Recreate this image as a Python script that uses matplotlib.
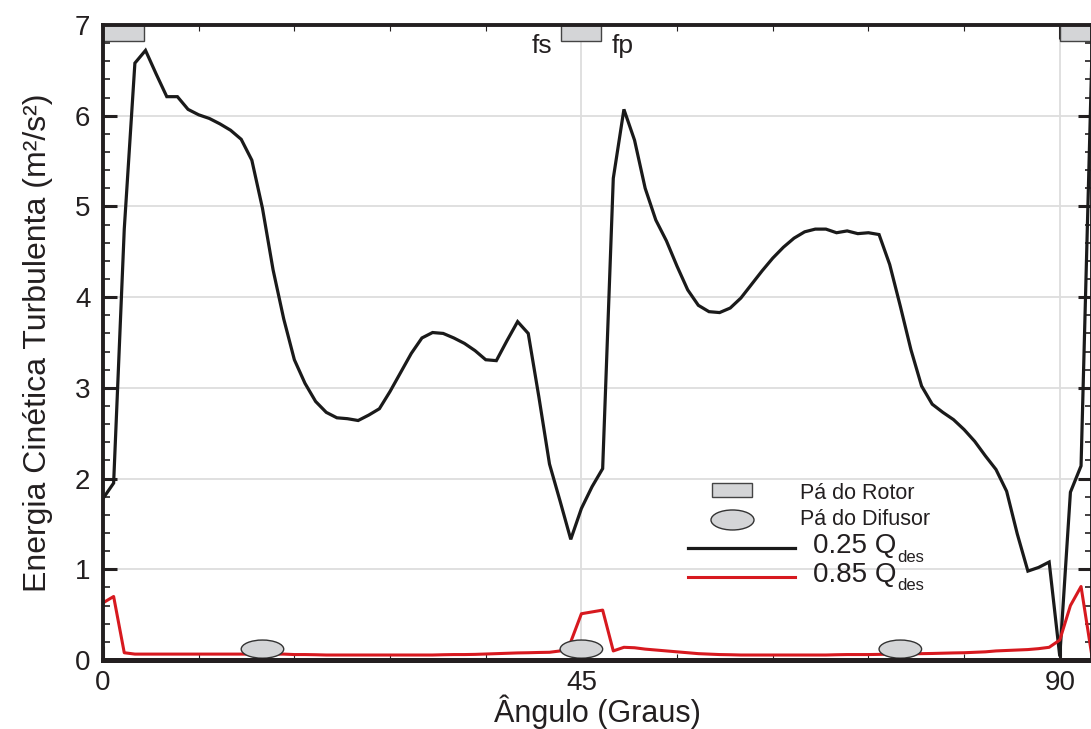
import matplotlib
matplotlib.use("Agg")
import matplotlib.pyplot as plt
from matplotlib.patches import Rectangle, Ellipse
from matplotlib.lines import Line2D
from matplotlib.ticker import MultipleLocator

plt.rcParams['font.family'] = ['Liberation Sans', 'DejaVu Sans']

# ---------------------------
# Data
# ---------------------------
angulo = list(range(0, 94))

k_025 = [1.78, 1.95, 4.75, 6.58, 6.72, 6.46, 6.21, 6.21, 6.07, 6.01,
         5.97, 5.91, 5.84, 5.74, 5.51, 4.98, 4.30, 3.76, 3.31, 3.05,
         2.85, 2.73, 2.67, 2.66, 2.64, 2.70, 2.77, 2.96, 3.17, 3.38,
         3.55, 3.61, 3.60, 3.55, 3.49, 3.41, 3.31, 3.30, 3.52, 3.73,
         3.60, 2.90, 2.16, 1.75, 1.33, 1.67, 1.91, 2.11, 5.31, 6.07,
         5.73, 5.20, 4.85, 4.62, 4.34, 4.08, 3.91, 3.84, 3.83, 3.88,
         3.99, 4.14, 4.29, 4.43, 4.55, 4.65, 4.72, 4.75, 4.75, 4.71,
         4.73, 4.70, 4.71, 4.69, 4.36, 3.90, 3.42, 3.02, 2.82, 2.73,
         2.65, 2.54, 2.41, 2.25, 2.10, 1.86, 1.39, 0.98, 1.02, 1.08,
         0.04, 1.85, 2.14, 6.58]

k_085 = [0.63, 0.70, 0.08, 0.065, 0.065, 0.065, 0.065, 0.065, 0.065, 0.065,
         0.065, 0.065, 0.065, 0.065, 0.065, 0.065, 0.065, 0.065, 0.06, 0.06,
         0.058, 0.055, 0.055, 0.055, 0.055, 0.055, 0.055, 0.055, 0.055, 0.055,
         0.055, 0.055, 0.058, 0.06, 0.06, 0.062, 0.066, 0.07, 0.074, 0.078,
         0.08, 0.083, 0.085, 0.10, 0.20, 0.51, 0.53, 0.55, 0.10, 0.14,
         0.135, 0.12, 0.11, 0.10, 0.09, 0.08, 0.07, 0.065, 0.06, 0.058,
         0.055, 0.055, 0.055, 0.055, 0.055, 0.055, 0.055, 0.055, 0.055, 0.058,
         0.06, 0.06, 0.06, 0.062, 0.065, 0.065, 0.068, 0.07, 0.072, 0.075,
         0.078, 0.08, 0.085, 0.09, 0.10, 0.105, 0.11, 0.115, 0.125, 0.14,
         0.22, 0.60, 0.81, 0.06]

# rotor blade marks (top) and diffuser blade marks (bottom), in degrees
rotor_inicio = [0.0, 43.05, 90.0]
rotor_fim = [3.86, 46.8, 93.8]
difusor_centro = [15, 45, 75]

x_ticks = [0, 45, 90]
y_ticks = [0, 1, 2, 3, 4, 5, 6, 7]

dark = '#231f20'
gray_fill = '#d4d5d7'

# ---------------------------
# Figure
# ---------------------------
fig = plt.figure(figsize=(10.91, 7.29), dpi=100)
ax = fig.add_axes([103/1091, 1 - 660/729, 989/1091, 635/729])

ax.set_xlim(0, 93.03)
ax.set_ylim(0, 7)

# grid
for yv in y_ticks[1:]:
    ax.axhline(yv, color='#dddddd', lw=1.3, zorder=0.5)
for xv in x_ticks[1:]:
    ax.axvline(xv, color='#dddddd', lw=1.3, zorder=0.5)

ax.plot(angulo, k_025, color='#1a1a1a', lw=2.3, zorder=2, solid_joinstyle='miter')
ax.plot(angulo, k_085, color='#d7191f', lw=2.2, zorder=2.05)

for x0, x1 in zip(rotor_inicio, rotor_fim):
    ax.add_patch(Rectangle((x0, 6.82), x1 - x0, 0.3, facecolor=gray_fill,
                           edgecolor='#444444', lw=1.0, zorder=2.2, clip_on=True))
for xc in difusor_centro:
    ax.add_patch(Ellipse((xc, 0.12), 4.0, 0.2, facecolor=gray_fill,
                         edgecolor='#333333', lw=1.0, zorder=2.2))

ax.text(42.3, 6.69, 'fs', ha='right', va='baseline', fontsize=19, color=dark)
ax.text(47.85, 6.69, 'fp', ha='left', va='baseline', fontsize=19, color=dark)

# axes style
for side in ['left', 'top', 'right']:
    ax.spines[side].set_linewidth(2.8)
    ax.spines[side].set_color(dark)
ax.spines['bottom'].set_linewidth(3.6)
ax.spines['bottom'].set_color(dark)

ax.set_xticks(x_ticks)
ax.set_yticks(y_ticks)
ax.xaxis.set_minor_locator(MultipleLocator(9))
ax.yaxis.set_minor_locator(MultipleLocator(0.2))
ax.tick_params(which='major', direction='in', length=10, width=2.2, color=dark,
               top=True, right=True, labelsize=20, labelcolor=dark)
ax.tick_params(axis='x', which='major', pad=7)
ax.tick_params(axis='y', which='major', pad=9)
ax.tick_params(axis='y', which='minor', direction='in', length=5, width=1.2,
               color=dark, left=True, right=True)
ax.tick_params(axis='x', which='minor', direction='in', length=4, width=0.8,
               color=dark, top=True, bottom=True)

ax.set_xlabel('Ângulo (Graus)', fontsize=22, color=dark, labelpad=-1)
ax.set_ylabel('Energia Cinética Turbulenta (m²/s²)', fontsize=23, color=dark, labelpad=16)

# ---------------------------
# Legend (drawn by hand)
# ---------------------------
tr = ax.transAxes
ax.add_patch(Rectangle((0.6158, 0.2567), 0.0404, 0.0227, transform=tr,
                       facecolor=gray_fill, edgecolor='#444444', lw=1.0, zorder=5))
ax.add_patch(Ellipse((0.6365, 0.2205), 0.0435, 0.0315, transform=tr,
                     facecolor=gray_fill, edgecolor='#333333', lw=1.0, zorder=5))
ax.add_line(Line2D([0.5913, 0.7002], [0.1759, 0.1759], transform=tr,
                   color='#1a1a1a', lw=2.3, zorder=5))
ax.add_line(Line2D([0.5913, 0.7002], [0.1312, 0.1312], transform=tr,
                   color='#d7191f', lw=2.2, zorder=5))
ax.text(0.7048, 0.253, 'Pá do Rotor', transform=tr, fontsize=15.5,
        va='baseline', color=dark)
ax.text(0.7048, 0.2126, 'Pá do Difusor', transform=tr, fontsize=15.5,
        va='baseline', color=dark)

for label, ybase in [('0.25 Q', 0.168), ('0.85 Q', 0.1233)]:
    t = ax.text(0.7182, ybase, label, transform=tr, fontsize=20,
                va='baseline', color=dark)
    ax.annotate('des', xy=(1, 0), xycoords=t, xytext=(0.5, -2),
                textcoords='offset points', fontsize=12, va='baseline',
                ha='left', color=dark)

fig.savefig('out.png', dpi=100)
